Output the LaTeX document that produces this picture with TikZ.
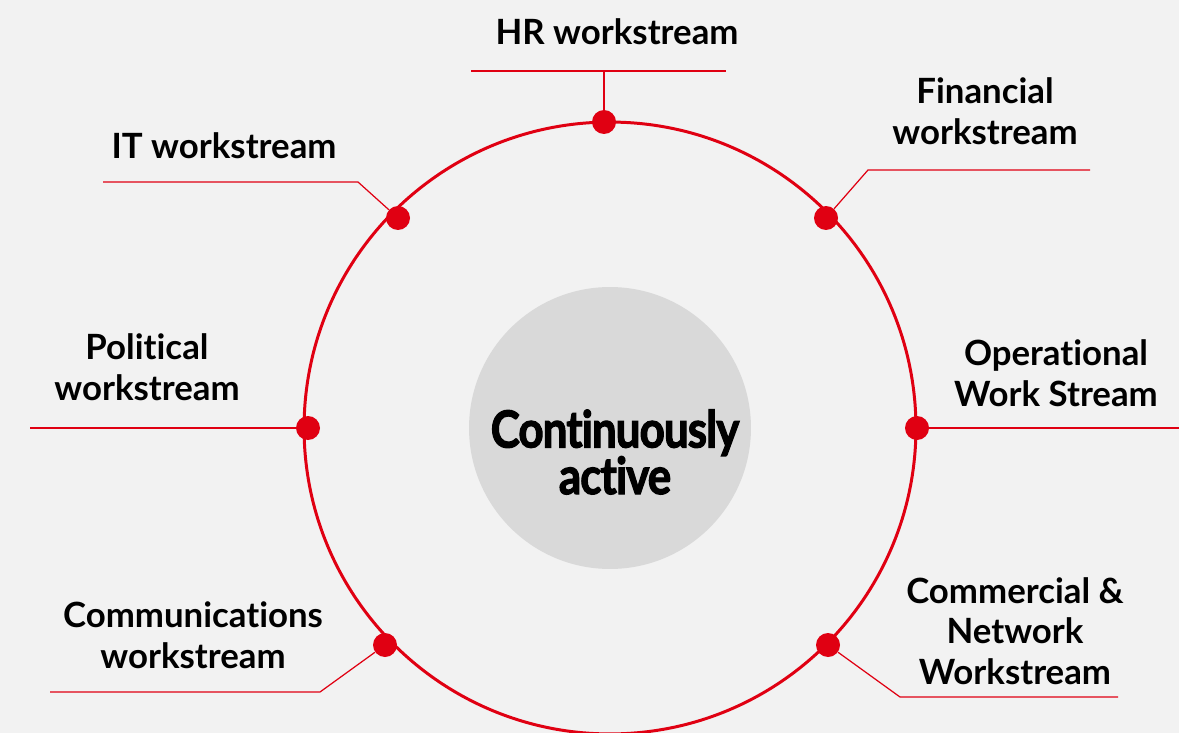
\documentclass[tikz,border=0pt]{standalone}
\usepackage{fontspec}
\setmainfont{Lato}[RawFeature={-liga;-clig;-dlig;-calt}]
\newfontfamily\hubfont[BoldFeatures={FakeBold=2.5},LetterSpace=-2,RawFeature={-liga;-clig;-dlig;-calt}]{Lato}
\usetikzlibrary{positioning}
\definecolor{bggray}{RGB}{242,242,242}
\definecolor{hubgray}{RGB}{217,217,217}
\definecolor{wsred}{RGB}{224,0,18}

\tikzset{
  wsdot/.style={circle,fill=wsred,inner sep=0pt,minimum size=0.48cm},
  wslink/.style={draw=wsred,line width=0.7pt},
  wslabel/.style={align=center,font=\bfseries\fontsize{19.8}{23.2}\selectfont,inner sep=0pt},
  hub/.style={circle,fill=hubgray,minimum size=5.64cm,inner sep=0pt},
  hubtext/.style={align=center,inner sep=0pt,transform shape,xscale=0.86,
    font=\hubfont\bfseries\fontsize{29}{26.5}\selectfont}
}

\begin{document}
\begin{tikzpicture}[x=0.02cm,y=-0.02cm]
\useasboundingbox (0,0) rectangle (1179,733);
\fill[bggray] (0,0) rectangle (1179,733);
\clip (0,0) rectangle (1179,733);

% ============ hub and ring ============
\node[hub] (hub) at (610,428) {};
\node[hubtext] (hubtxt) at (615,452) {Continuously\\active};
\draw[wsred,line width=1.7pt] (hub.center) circle [radius=6.12cm];

% ============ dots on the ring ============
\node[wsdot] (hrdot) at (604,122) {};
\node[wsdot] (findot) at (826,218) {};
\node[wsdot] (opsdot) at (917,428) {};
\node[wsdot] (comdot) at (828,645) {};
\node[wsdot] (comsdot) at (385,645) {};
\node[wsdot] (poldot) at (308,428) {};
\node[wsdot] (itdot) at (398,218) {};

% ============ labels ============
\node[wslabel] (hr) at (617,32) {HR workstream};
\node[wslabel] (fin) at (985,111) {Financial\\workstream};
\node[wslabel] (ops) at (1056,373) {Operational\\Work Stream};
\node[wslabel] (com) at (1015,631) {Commercial \&\\Network\\Workstream};
\node[wslabel] (coms) at (193,635) {Communications\\workstream};
\node[wslabel] (pol) at (147,367) {Political\\workstream};
\node[wslabel] (it) at (224,146) {IT workstream};

% ============ leader lines ============
\coordinate (hrknee) at (604,71);
\coordinate (hrl) at (471,71);
\coordinate (hrr) at (726,71);
\draw[wslink] (hrdot) -- (hrknee);
\draw[wslink] (hrl) -- (hrr);

\coordinate (finknee) at (868,170);
\coordinate (finend) at (1090,170);
\draw[wslink] (findot) -- (finknee) -- (finend);

\coordinate (opsend) at (1179,428);
\draw[wslink] (opsdot) -- (opsend);

\coordinate (comknee) at (900,697);
\coordinate (comend) at (1118,697);
\draw[wslink] (comdot) -- (comknee) -- (comend);

\coordinate (comsknee) at (320,692);
\coordinate (comsend) at (50,692);
\draw[wslink] (comsdot) -- (comsknee) -- (comsend);

\coordinate (polend) at (30,428);
\draw[wslink] (poldot) -- (polend);

\coordinate (itknee) at (358,182);
\coordinate (itend) at (103,182);
\draw[wslink] (itdot) -- (itknee) -- (itend);

\end{tikzpicture}
\end{document}
